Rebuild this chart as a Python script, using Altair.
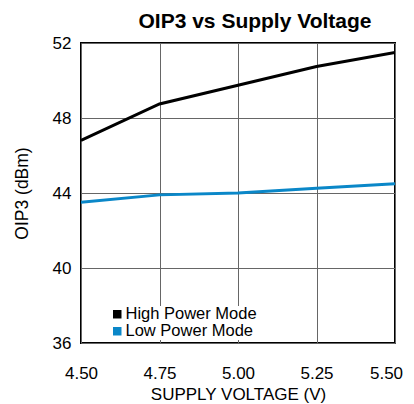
import altair as alt
import pandas as pd

voltage = [4.50, 4.75, 5.00, 5.25, 5.50]
high_power = [46.8, 48.75, 49.75, 50.75, 51.5]
low_power = [43.5, 43.9, 44.0, 44.25, 44.5]
series_names = ["High Power Mode", "Low Power Mode"]
colors = ["#000000", "#0a87c8"]

rows = []
for v, h, l in zip(voltage, high_power, low_power):
    rows.append({"v": v, "oip3": h, "mode": series_names[0]})
    rows.append({"v": v, "oip3": l, "mode": series_names[1]})
df = pd.DataFrame(rows)

font = "Liberation Sans"

x_enc = alt.X("v:Q", scale=alt.Scale(domain=[4.5, 5.5], nice=False),
              axis=alt.Axis(title="SUPPLY VOLTAGE (V)", values=voltage, format=".2f",
                            tickSize=0, labelPadding=22, titlePadding=5, labelFlush=False,
                            labelOffset=alt.ConditionalAxisNumber(
                                condition={"test": "datum.value >= 5.5", "value": -9},
                                value=0),
                            labelFontSize=17, titleFontSize=17, titleFontWeight="normal",
                            labelColor="#000", titleColor="#000",
                            gridColor="#666", gridOpacity=1, domain=False))
y_enc = alt.Y("oip3:Q", scale=alt.Scale(domain=[36, 52], nice=False),
              axis=alt.Axis(title="OIP3 (dBm)", values=[36, 40, 44, 48, 52],
                            tickSize=0, labelPadding=10, titlePadding=21,
                            labelFontSize=17, titleFontSize=17.5, titleFontWeight="normal",
                            labelColor="#000", titleColor="#000",
                            gridColor="#666", gridOpacity=1, domain=False))

base = alt.Chart(df)

lines = base.mark_line(strokeWidth=3, clip=True).encode(
    x=x_enc, y=y_enc,
    color=alt.Color("mode:N", scale=alt.Scale(domain=series_names, range=colors), legend=None),
)

legend_pts = base.mark_square(filled=True, opacity=0).encode(
    x="v:Q", y="oip3:Q",
    color=alt.Color("mode:N", scale=alt.Scale(domain=series_names, range=colors),
                    legend=alt.Legend(title=None, orient="none", legendX=28, legendY=263,
                                      symbolType="square", symbolSize=72, symbolOpacity=1,
                                      symbolStrokeWidth=0,
                                      labelFontSize=16.5, labelColor="#000",
                                      fillColor="white", padding=0, rowPadding=0,
                                      labelOffset=0, labelLimit=300)),
)

chart = alt.layer(lines, legend_pts).resolve_legend(color="independent").properties(
    width=314, height=300,
    title=alt.TitleParams("OIP3 vs Supply Voltage", fontSize=21, fontWeight="bold",
                          font=font, color="#000", dx=17, offset=2),
    autosize=alt.AutoSizeParams(type="none"),
    padding={"left": 73, "top": 35, "right": 11, "bottom": 60},
).configure(font=font).configure_view(stroke="#000", strokeWidth=2)

chart.save("out.html", embed_options={"renderer": "svg", "actions": False})
